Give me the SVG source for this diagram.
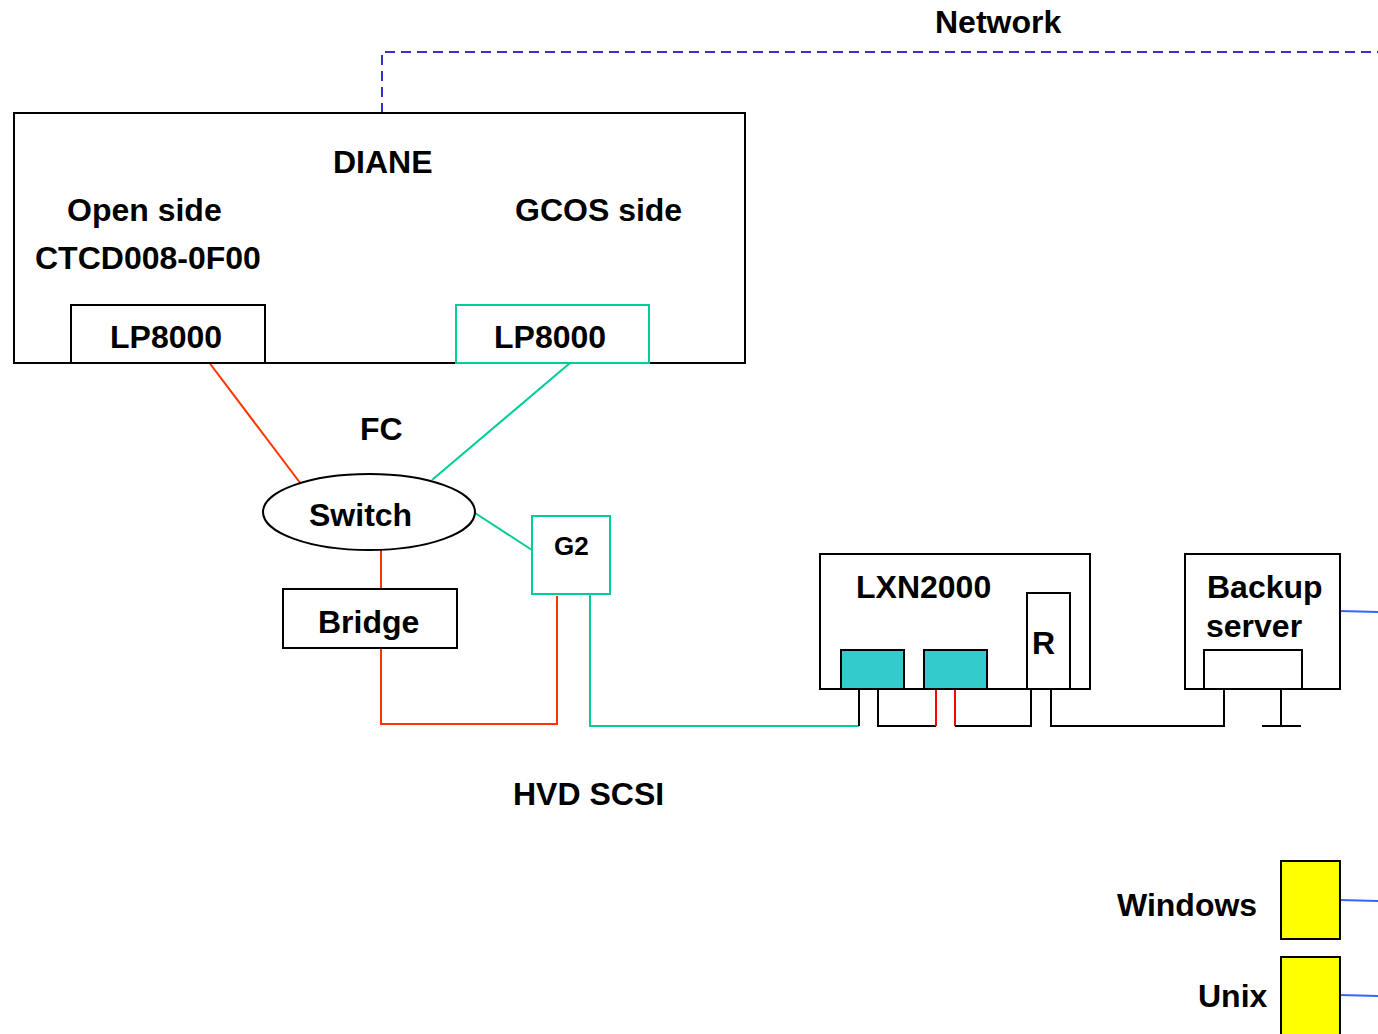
<svg xmlns="http://www.w3.org/2000/svg" width="1378" height="1034" viewBox="0 0 1378 1034">
<style>
text{font-family:"Liberation Sans",Arial,sans-serif;font-weight:bold;font-size:32px;fill:#000}
.box{fill:#fff;stroke:#000;stroke-width:2}
.tbox{fill:#fff;stroke:#00CC99;stroke-width:2}
.fill{fill:#33CCCC;stroke:#000;stroke-width:2}
.yel{fill:#FFFF00;stroke:#000;stroke-width:2}
.red{fill:none;stroke:#FF3300;stroke-width:2}
.rred{fill:none;stroke:#FF0000;stroke-width:2}
.teal{fill:none;stroke:#00CC99;stroke-width:2}
.blk{fill:none;stroke:#000;stroke-width:2}
.blue{fill:none;stroke:#3366FF;stroke-width:2}
.net{fill:none;stroke:#3333CC;stroke-width:2;stroke-dasharray:10 6}
</style>
<rect width="1378" height="1034" fill="#fff"/>
<g id="connectors">
<polyline class="net" points="382,113 382,52 1378,52"/>
<line class="red" x1="205" y1="357" x2="301" y2="484"/>
<line class="teal" x1="570" y1="363" x2="432" y2="480"/>
<line class="teal" x1="475" y1="513" x2="532" y2="550"/>
<line class="red" x1="381" y1="548" x2="381" y2="597"/>
<polyline class="red" points="381,645 381,724 557,724 557,596"/>
<polyline class="teal" points="590,593 590,726 859,726"/>
<line class="blk" x1="859" y1="726" x2="859" y2="689"/>
<polyline class="blk" points="878,689 878,726 936,726"/>
<line class="rred" x1="936" y1="689" x2="936" y2="726"/>
<line class="rred" x1="955" y1="689" x2="955" y2="726"/>
<polyline class="blk" points="955,726 1031,726 1031,689"/>
<polyline class="blk" points="1051,689 1051,726 1224,726 1224,689"/>
<line class="blk" x1="1281" y1="689" x2="1281" y2="726"/>
<line class="blk" x1="1262" y1="726" x2="1301" y2="726"/>
<line class="blue" x1="1340" y1="611" x2="1378" y2="612"/>
<line class="blue" x1="1340" y1="900" x2="1378" y2="901"/>
<line class="blue" x1="1340" y1="995" x2="1378" y2="996"/>
</g>
<text x="935" y="33">Network</text>
<g id="diane">
<rect class="box" x="14" y="113" width="731" height="250"/>
<text x="333" y="173">DIANE</text>
<text x="67" y="221">Open side</text>
<text x="515" y="221">GCOS side</text>
<text x="35" y="269">CTCD008-0F00</text>
</g>
<g id="lp8000-open">
<rect class="box" x="71" y="305" width="194" height="58"/>
<text x="110" y="348">LP8000</text>
</g>
<g id="lp8000-gcos">
<rect class="tbox" x="456" y="305" width="193" height="58"/>
<text x="494" y="348">LP8000</text>
</g>
<text x="360" y="440">FC</text>
<g id="switch">
<ellipse class="box" cx="369" cy="512" rx="106" ry="38"/>
<text x="309" y="526">Switch</text>
</g>
<g id="g2">
<rect class="tbox" x="532" y="516" width="78" height="78"/>
<text x="554" y="555" style="font-size:26px">G2</text>
</g>
<g id="bridge">
<rect class="box" x="283" y="589" width="174" height="59"/>
<text x="318" y="633">Bridge</text>
</g>
<text x="513" y="805">HVD SCSI</text>
<g id="lxn2000">
<rect class="box" x="820" y="554" width="270" height="135"/>
<text x="856" y="598">LXN2000</text>
<rect class="fill" x="841" y="650" width="63" height="39"/>
<rect class="fill" x="924" y="650" width="63" height="39"/>
<rect class="box" x="1027" y="593" width="43" height="96"/>
<text x="1032" y="654">R</text>
</g>
<g id="backup">
<rect class="box" x="1185" y="554" width="155" height="135"/>
<text x="1207" y="598">Backup</text>
<text x="1206" y="637">server</text>
<rect class="box" x="1204" y="650" width="98" height="39"/>
</g>
<g id="windows">
<rect class="yel" x="1281" y="861" width="59" height="78"/>
<text x="1117" y="916">Windows</text>
</g>
<g id="unix">
<rect class="yel" x="1281" y="957" width="59" height="80"/>
<text x="1198" y="1007">Unix</text>
</g>
</svg>
